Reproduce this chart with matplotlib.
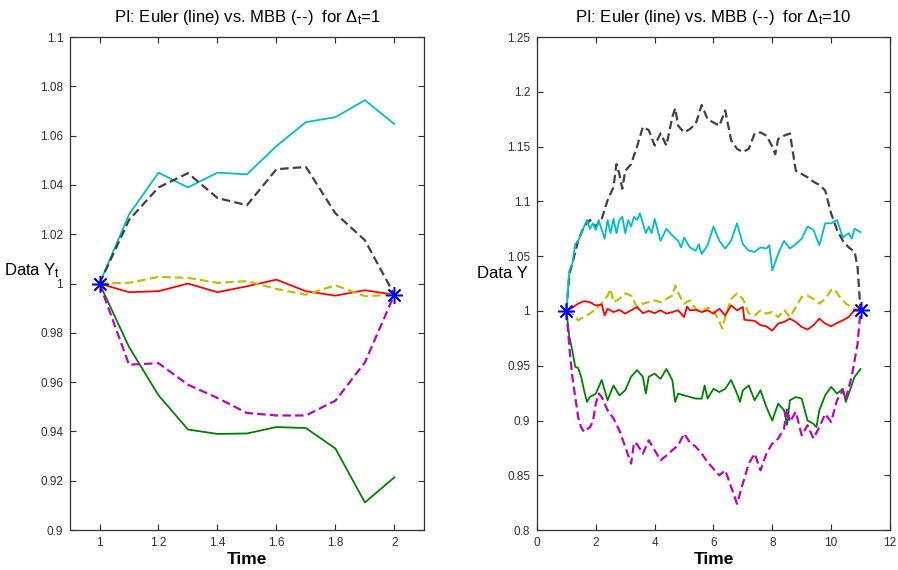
import matplotlib
matplotlib.use("Agg")
import matplotlib.pyplot as plt

plt.rcParams['font.family'] = ['Liberation Sans', 'DejaVu Sans']
plt.rcParams['mathtext.fontset'] = 'custom'
plt.rcParams['mathtext.rm'] = 'Liberation Sans'
plt.rcParams['mathtext.it'] = 'Liberation Sans:italic'

# ---------------- Left panel data (Delta_t = 1) ----------------
t_left = [1.0, 1.1, 1.2, 1.3, 1.4, 1.5, 1.6, 1.7, 1.8, 1.9, 2.0]
left_cyan = [1.000, 1.028, 1.045, 1.039, 1.045, 1.0443, 1.0558, 1.0655, 1.0675, 1.0744, 1.0647]
left_black = [1.000, 1.0258, 1.039, 1.0448, 1.0347, 1.0318, 1.0464, 1.0473, 1.0285, 1.0176, 0.9955]
left_red = [1.000, 0.9965, 0.9969, 1.000, 0.9965, 0.9989, 1.0016, 0.9969, 0.9951, 0.9973, 0.9955]
left_yellow = [1.000, 1.0003, 1.0027, 1.0023, 1.0003, 1.001, 0.9978, 0.9955, 0.9993, 0.9949, 0.9955]
left_magenta = [1.000, 0.9671, 0.9677, 0.959, 0.9536, 0.9475, 0.9465, 0.9465, 0.9525, 0.968, 0.9955]
left_green = [1.000, 0.9743, 0.9547, 0.9408, 0.939, 0.9392, 0.9418, 0.9414, 0.9331, 0.9112, 0.9214]
left_stars_t = [1.0, 2.0]
left_stars_y = [1.000, 0.9955]

# ---------------- Right panel data (Delta_t = 10) ----------------
rb_t = [1.0, 1.1, 1.2, 1.4, 1.6, 1.8, 2.0, 2.2, 2.4, 2.6, 2.7, 2.8, 2.9, 3.0, 3.2, 3.4, 3.6, 3.8,
        4.0, 4.2, 4.4, 4.6, 4.7, 4.8, 5.0, 5.2, 5.4, 5.6, 5.8, 6.0, 6.2, 6.4, 6.6, 6.8, 7.0, 7.2,
        7.4, 7.6, 7.8, 8.0, 8.1, 8.2, 8.4, 8.6, 8.8, 9.0, 9.2, 9.4, 9.6, 9.8, 10.0, 10.2, 10.4,
        10.6, 10.8, 10.9, 11.0]
rb_y = [1.000, 1.034, 1.043, 1.0645, 1.077, 1.083, 1.077, 1.084, 1.101, 1.113, 1.134, 1.125, 1.1116,
        1.128, 1.134, 1.150, 1.168, 1.165, 1.151, 1.162, 1.151, 1.177, 1.185, 1.169, 1.163, 1.166,
        1.171, 1.188, 1.175, 1.172, 1.169, 1.183, 1.156, 1.148, 1.145, 1.148, 1.162, 1.163, 1.160,
        1.150, 1.143, 1.157, 1.160, 1.162, 1.128, 1.125, 1.122, 1.118, 1.115, 1.110, 1.089, 1.074,
        1.064, 1.058, 1.054, 1.040, 1.0006]

rc_t = [1.0, 1.1, 1.2, 1.3, 1.4, 1.6, 1.7, 1.8, 1.9, 2.0, 2.1, 2.2, 2.3, 2.4, 2.5, 2.6, 2.7, 2.8,
        2.9, 3.0, 3.1, 3.2, 3.3, 3.4, 3.5, 3.6, 3.7, 3.8, 3.9, 4.0, 4.2, 4.4, 4.6, 4.8, 4.9, 5.0,
        5.2, 5.4, 5.5, 5.6, 5.8, 6.0, 6.2, 6.4, 6.6, 6.8, 7.0, 7.2, 7.4, 7.6, 7.8, 7.9, 8.0, 8.2,
        8.4, 8.6, 8.8, 9.0, 9.2, 9.4, 9.6, 9.8, 10.0, 10.2, 10.4, 10.6, 10.7, 10.8, 11.0]
rc_y = [1.000, 1.037, 1.043, 1.061, 1.064, 1.077, 1.083, 1.075, 1.080, 1.074, 1.083, 1.074, 1.066,
        1.083, 1.071, 1.084, 1.071, 1.083, 1.086, 1.071, 1.083, 1.077, 1.086, 1.083, 1.089, 1.080,
        1.071, 1.077, 1.071, 1.084, 1.064, 1.075, 1.069, 1.064, 1.058, 1.067, 1.058, 1.055, 1.061,
        1.052, 1.060, 1.077, 1.064, 1.057, 1.064, 1.080, 1.061, 1.055, 1.054, 1.058, 1.057, 1.060,
        1.037, 1.052, 1.064, 1.057, 1.061, 1.066, 1.077, 1.074, 1.060, 1.080, 1.080, 1.083, 1.067,
        1.071, 1.066, 1.075, 1.072]

rr_t = [1.0, 1.2, 1.4, 1.6, 1.8, 2.0, 2.2, 2.3, 2.4, 2.6, 2.8, 3.0, 3.2, 3.4, 3.6, 3.8, 4.0, 4.2,
        4.4, 4.6, 4.8, 5.0, 5.1, 5.2, 5.4, 5.6, 5.8, 6.0, 6.2, 6.4, 6.6, 6.8, 7.0, 7.05, 7.2, 7.4,
        7.6, 7.8, 8.0, 8.2, 8.4, 8.6, 8.8, 9.0, 9.2, 9.4, 9.6, 9.8, 10.0, 10.2, 10.4, 10.6, 10.8, 11.0]
rr_y = [1.000, 1.003, 1.0067, 1.009, 1.008, 1.005, 1.006, 0.996, 1.002, 0.999, 1.001, 0.9976,
        1.0006, 1.0036, 0.998, 1.000, 0.998, 1.0006, 0.9976, 0.999, 1.0006, 0.9945, 1.004, 1.0006,
        1.001, 0.999, 1.0006, 0.9976, 1.002, 0.996, 1.005, 1.0006, 1.0036, 0.992, 0.9915, 0.991,
        0.987, 0.986, 0.982, 0.9885, 0.990, 0.993, 0.990, 0.9854, 0.983, 0.987, 0.993, 0.9885,
        0.986, 0.989, 0.9915, 0.9945, 1.001, 1.0006]

ry_t = [1.0, 1.2, 1.4, 1.6, 1.8, 2.0, 2.2, 2.4, 2.5, 2.6, 2.8, 3.0, 3.2, 3.4, 3.6, 3.8, 4.0, 4.2,
        4.4, 4.6, 4.7, 4.9, 5.0, 5.2, 5.4, 5.6, 5.8, 6.0, 6.2, 6.3, 6.4, 6.6, 6.8, 7.0, 7.2, 7.4,
        7.6, 7.8, 8.0, 8.2, 8.4, 8.6, 8.8, 9.0, 9.2, 9.4, 9.6, 9.8, 10.0, 10.1, 10.3, 10.5, 10.7,
        10.9, 11.0]
ry_y = [1.000, 0.9976, 0.9915, 0.9945, 0.9976, 1.002, 1.0067, 1.014, 1.020, 1.008, 1.011, 1.016,
        1.014, 1.0036, 1.0067, 1.008, 1.0097, 1.008, 1.011, 1.014, 1.023, 1.011, 1.0067, 1.0097,
        1.002, 0.999, 1.003, 1.0006, 0.990, 0.984, 0.9945, 1.011, 1.016, 1.011, 0.9976, 0.996,
        1.0006, 0.9976, 0.999, 0.9945, 1.001, 0.9945, 1.0036, 1.0128, 1.014, 1.011, 1.0067, 1.011,
        1.019, 1.020, 1.0128, 1.0067, 1.0036, 1.0006, 1.0006]

rg_t = [1.0, 1.1, 1.2, 1.3, 1.4, 1.5, 1.6, 1.7, 1.8, 2.0, 2.2, 2.4, 2.6, 2.8, 3.0, 3.2, 3.4, 3.6,
        3.7, 3.8, 4.0, 4.2, 4.4, 4.6, 4.7, 4.8, 5.0, 5.2, 5.4, 5.6, 5.7, 5.8, 6.0, 6.2, 6.4, 6.6,
        6.8, 6.9, 7.0, 7.2, 7.4, 7.6, 7.8, 8.0, 8.2, 8.4, 8.5, 8.6, 8.8, 9.0, 9.2, 9.4, 9.5, 9.6,
        9.8, 10.0, 10.2, 10.4, 10.5, 10.6, 10.8, 11.0]
rg_y = [1.000, 0.9763, 0.964, 0.949, 0.948, 0.940, 0.9276, 0.917, 0.9215, 0.9246, 0.937, 0.9185,
        0.932, 0.923, 0.9276, 0.940, 0.946, 0.940, 0.9246, 0.940, 0.9428, 0.938, 0.947, 0.937,
        0.917, 0.9246, 0.923, 0.9215, 0.920, 0.920, 0.932, 0.920, 0.929, 0.926, 0.929, 0.937,
        0.9246, 0.917, 0.9276, 0.932, 0.9185, 0.9276, 0.9124, 0.900, 0.9155, 0.9094, 0.896, 0.9185,
        0.9215, 0.920, 0.900, 0.897, 0.894, 0.9094, 0.923, 0.9307, 0.9246, 0.929, 0.917, 0.9246,
        0.940, 0.947]

rm_t = [1.0, 1.1, 1.2, 1.3, 1.4, 1.5, 1.6, 1.8, 1.9, 2.0, 2.1, 2.2, 2.4, 2.6, 2.8, 3.0, 3.2, 3.3,
        3.4, 3.6, 3.8, 4.0, 4.2, 4.4, 4.6, 4.8, 5.0, 5.2, 5.4, 5.6, 5.8, 6.0, 6.2, 6.4, 6.6, 6.8,
        7.0, 7.2, 7.4, 7.6, 7.8, 8.0, 8.2, 8.4, 8.5, 8.6, 8.8, 9.0, 9.2, 9.4, 9.6, 9.8, 10.0, 10.2,
        10.4, 10.5, 10.7, 10.9, 11.0]
rm_y = [1.000, 0.967, 0.940, 0.9215, 0.903, 0.894, 0.8896, 0.894, 0.899, 0.9155, 0.9246, 0.9215,
        0.9094, 0.902, 0.891, 0.876, 0.8607, 0.880, 0.8784, 0.8698, 0.882, 0.8729, 0.8637, 0.868,
        0.8729, 0.8774, 0.888, 0.880, 0.876, 0.8698, 0.862, 0.856, 0.850, 0.8546, 0.8394, 0.824,
        0.8425, 0.8607, 0.8698, 0.8546, 0.8698, 0.879, 0.8835, 0.8926, 0.911, 0.8987, 0.908, 0.8865,
        0.8957, 0.8835, 0.894, 0.906, 0.8987, 0.9185, 0.9276, 0.920, 0.940, 0.970, 1.0006]

right_stars_t = [1.0, 11.0]
right_stars_y = [1.000, 1.0006]

# ---------------- styling ----------------
C_CYAN = (0.0, 0.75, 0.75)
C_BLACK = (0.25, 0.25, 0.25)
C_RED = (1.0, 0.0, 0.0)
C_YEL = (0.75, 0.75, 0.0)
C_MAG = (0.75, 0.0, 0.75)
C_GRN = (0.0, 0.5, 0.0)
DASH = (0, (3.8, 1.9))
LW_S = 1.3
LW_D = 1.6
STAR = (8, 2, 0)

fig = plt.figure(figsize=(8.98, 5.70), dpi=100)
ax1 = fig.add_axes([0.078, 0.070, 0.394, 0.865])
ax2 = fig.add_axes([0.598, 0.070, 0.393, 0.865])


def style(ax):
    for s in ax.spines.values():
        s.set_color('#303030')
        s.set_linewidth(0.9)
    ax.tick_params(direction='in', top=True, right=True, length=4.5, width=0.8,
                   labelsize=8.5, colors='#303030', pad=5)


# Left
ax1.plot(t_left, left_cyan, color=C_CYAN, lw=LW_S)
ax1.plot(t_left, left_black, color=C_BLACK, lw=LW_D, linestyle=DASH)
ax1.plot(t_left, left_red, color=C_RED, lw=LW_S)
ax1.plot(t_left, left_yellow, color=C_YEL, lw=LW_D, linestyle=DASH)
ax1.plot(t_left, left_green, color=C_GRN, lw=LW_S)
ax1.plot(t_left, left_magenta, color=C_MAG, lw=LW_D, linestyle=DASH)
ax1.plot(left_stars_t, left_stars_y, linestyle='none', marker=STAR, ms=12, mew=1.1,
         color='blue', clip_on=False, zorder=5)
ax1.set_xlim(0.9, 2.1)
ax1.set_ylim(0.9, 1.1)
ax1.set_xticks([1, 1.2, 1.4, 1.6, 1.8, 2])
ax1.set_xticklabels(['1', '1.2', '1.4', '1.6', '1.8', '2'])
ax1.set_yticks([0.9, 0.92, 0.94, 0.96, 0.98, 1.0, 1.02, 1.04, 1.06, 1.08, 1.1])
ax1.set_yticklabels(['0.9', '0.92', '0.94', '0.96', '0.98', '1', '1.02', '1.04', '1.06', '1.08', '1.1'])
style(ax1)
ax1.set_title(r'PI: Euler (line) vs. MBB (--)  for $\mathrm{\Delta_t}$=1', fontsize=12, pad=11)
ax1.set_xlabel('Time', fontsize=12.5, fontweight='bold', labelpad=2)
ax1.set_ylabel(r'Data Y$_\mathrm{t}$', fontsize=12, rotation=0, ha='right', va='center')
ax1.yaxis.set_label_coords(-0.028, 0.527)

# Right
ax2.plot(rb_t, rb_y, color=C_BLACK, lw=LW_D, linestyle=DASH)
ax2.plot(rc_t, rc_y, color=C_CYAN, lw=LW_S)
ax2.plot(ry_t, ry_y, color=C_YEL, lw=LW_D, linestyle=DASH)
ax2.plot(rr_t, rr_y, color=C_RED, lw=LW_S)
ax2.plot(rg_t, rg_y, color=C_GRN, lw=LW_S)
ax2.plot(rm_t, rm_y, color=C_MAG, lw=LW_D, linestyle=DASH)
ax2.plot(right_stars_t, right_stars_y, linestyle='none', marker=STAR, ms=12, mew=1.1,
         color='blue', zorder=5)
ax2.set_xlim(0, 12)
ax2.set_ylim(0.8, 1.25)
ax2.set_xticks([0, 2, 4, 6, 8, 10, 12])
ax2.set_yticks([0.8, 0.85, 0.9, 0.95, 1.0, 1.05, 1.1, 1.15, 1.2, 1.25])
ax2.set_yticklabels(['0.8', '0.85', '0.9', '0.95', '1', '1.05', '1.1', '1.15', '1.2', '1.25'])
style(ax2)
ax2.set_title(r'PI: Euler (line) vs. MBB (--)  for $\mathrm{\Delta_t}$=10', fontsize=12, pad=11)
ax2.set_xlabel('Time', fontsize=12.5, fontweight='bold', labelpad=2)
ax2.set_ylabel('Data Y', fontsize=12, rotation=0, ha='right', va='center')
ax2.yaxis.set_label_coords(-0.025, 0.52)

fig.savefig('out.png', dpi=100)
